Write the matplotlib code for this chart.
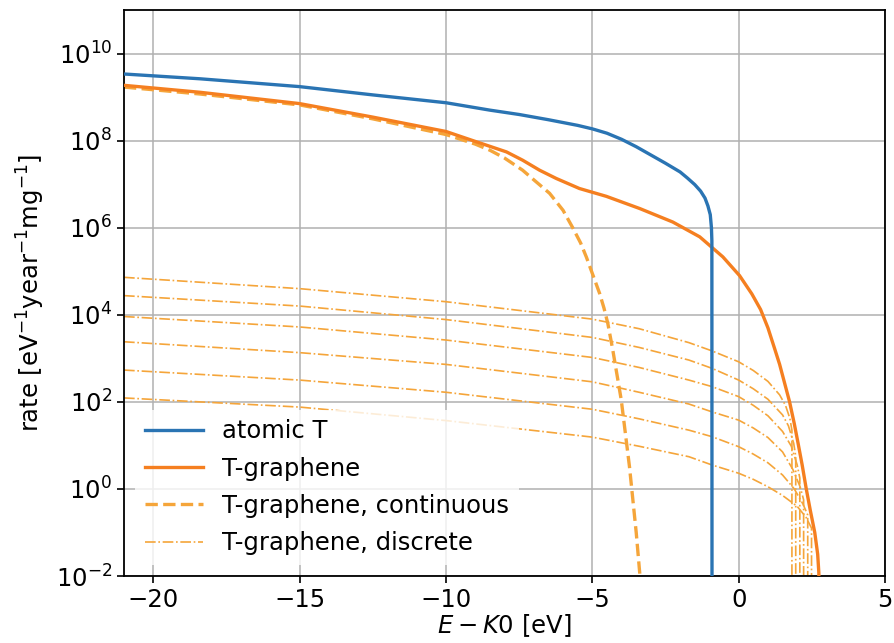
import numpy as np
import matplotlib
matplotlib.use("Agg")
import matplotlib.pyplot as plt

# ---- data (log10 of rate) ----
atomic_x = [-21, -18.4, -15, -12.5, -10, -8.5, -7.5, -6.5, -5.5, -5, -4.5, -4, -3.5, -3, -2.5, -2, -1.75,
            -1.5, -1.3, -1.15, -1.05, -0.97, -0.93, -0.915, -0.91]
atomic_log = [9.53, 9.42, 9.24, 9.05, 8.87, 8.70, 8.60, 8.48, 8.35, 8.27, 8.17, 8.03, 7.86, 7.67, 7.48, 7.28, 7.14,
              6.99, 6.84, 6.68, 6.5, 6.3, 6.0, 5.7, -3]

graph_x = [-21, -18.4, -15, -12.5, -10, -9.08, -7.93, -7.38, -6.8, -6.23, -5.44, -4.52, -3.38, -2.25,
           -1.33, -0.54, 0.03, 0.45, 0.75, 1.0, 1.23, 1.4, 1.57, 1.74, 1.9, 2.03, 2.17, 2.31, 2.45,
           2.6, 2.7, 2.74, 2.75]
graph_log = [9.27, 9.11, 8.85, 8.54, 8.21, 8.0, 7.74, 7.55, 7.32, 7.13, 6.90, 6.72, 6.44, 6.13,
             5.79, 5.33, 4.90, 4.48, 4.12, 3.70, 3.22, 2.86, 2.43, 2.0, 1.5, 1.05, 0.55, 0.0, -0.5,
             -1.0, -1.5, -1.93, -3]

cont_x = [-21, -18.4, -15, -12.5, -10, -9, -8.5, -8, -7.38, -7, -6.46, -6, -5.67, -5.4, -5.2, -5.0,
          -4.75, -4.6, -4.47, -4.3, -4.01, -3.73, -3.5, -3.38, -3.33]
cont_log = [9.23, 9.07, 8.82, 8.50, 8.14, 7.92, 7.78, 7.60, 7.32, 7.10, 6.79, 6.40, 6.0, 5.65, 5.32, 4.95,
            4.49, 4.15, 3.8, 3.19, 2.04, 0.51, -1.0, -1.93, -3]

disc_x = [
    [-21, -15, -10, -5, -3.4, -1.7, -0.91, 0, 0.5, 1.0, 1.4, 1.6, 1.75, 1.82, 1.82],
    [-21, -15, -10, -5, -3.4, -1.7, -0.91, 0, 0.5, 1.0, 1.5, 1.7, 1.88, 1.95, 1.95],
    [-21, -15, -10, -5, -3.4, -1.7, -0.91, 0, 0.5, 1.0, 1.5, 1.8, 2.0, 2.09, 2.09],
    [-21, -15, -10, -5, -3.4, -1.7, -0.91, 0, 0.5, 1.0, 1.5, 1.85, 2.1, 2.22, 2.22],
    [-21, -15, -10, -5, -3.4, -1.7, -0.91, 0, 0.5, 1.0, 1.5, 1.9, 2.2, 2.36, 2.36],
    [-21, -15, -10, -5, -3.4, -1.7, -0.91, 0, 0.5, 1.0, 1.5, 2.0, 2.3, 2.49, 2.49],
]
disc_log = [
    [4.86, 4.60, 4.30, 3.90, 3.68, 3.36, 3.17, 2.92, 2.72, 2.47, 2.16, 1.92, 1.62, 1.35, -3],
    [4.44, 4.20, 3.89, 3.48, 3.25, 2.96, 2.77, 2.50, 2.30, 2.06, 1.70, 1.45, 1.05, 0.75, -3],
    [3.96, 3.72, 3.42, 3.02, 2.79, 2.50, 2.35, 2.12, 1.92, 1.68, 1.32, 0.98, 0.55, 0.25, -3],
    [3.38, 3.13, 2.86, 2.46, 2.22, 1.95, 1.77, 1.58, 1.40, 1.18, 0.85, 0.45, 0.05, -0.25, -3],
    [2.73, 2.50, 2.22, 1.83, 1.61, 1.35, 1.20, 0.97, 0.80, 0.60, 0.32, 0.0, -0.35, -0.6, -3],
    [2.09, 1.88, 1.57, 1.19, 0.98, 0.74, 0.55, 0.36, 0.22, 0.05, -0.15, -0.4, -0.65, -0.9, -3],
]

labels = ["atomic T", "T-graphene", "T-graphene, continuous", "T-graphene, discrete"]

# ---- styling ----
plt.rcParams['font.family'] = ['DejaVu Sans']
plt.rcParams['font.size'] = 17.5
plt.rcParams['mathtext.fontset'] = 'dejavusans'

blue = '#2a74b3'
orange = '#f57f20'
light = '#f5a53a'

fig = plt.figure(figsize=(8.94, 6.43), dpi=100)
ax = fig.add_axes([124/894, 1-576/643, (885-124)/894, (576-10)/643])

ax.plot(atomic_x, 10**np.array(atomic_log), color=blue, lw=2.4, label=labels[0], zorder=4)
ax.plot(graph_x, 10**np.array(graph_log), color=orange, lw=2.4, label=labels[1], zorder=3)
ax.plot(cont_x, 10**np.array(cont_log), color=light, lw=2.4, ls='--', label=labels[2], zorder=2)
for i, (xs, ls_) in enumerate(zip(disc_x, disc_log)):
    ax.plot(xs, 10**np.array(ls_), color=light, lw=1.2, ls='-.',
            label=labels[3] if i == 0 else None, zorder=2)

ax.set_yscale('log')
ax.set_xlim(-21, 5)
ax.set_ylim(1e-2, 1e11)
ax.set_yticks([1e-2, 1e0, 1e2, 1e4, 1e6, 1e8, 1e10])
ax.yaxis.set_minor_locator(matplotlib.ticker.NullLocator())
ax.set_xticks([-20, -15, -10, -5, 0, 5])
ax.grid(True, color='#b0b0b0', lw=1.1)
ax.tick_params(length=5, width=1.2)
for s in ax.spines.values():
    s.set_linewidth(1.3)

ax.set_xlabel(r'$E - K0$ [eV]', labelpad=0)
ax.set_ylabel(r'rate [eV$^{-1}$year$^{-1}$mg$^{-1}$]', labelpad=6)

leg = ax.legend(loc='lower left', framealpha=0.8, edgecolor='none', fancybox=False,
                handlelength=2.4, labelspacing=0.55, borderaxespad=0.45)

fig.savefig('out.png', dpi=100)
